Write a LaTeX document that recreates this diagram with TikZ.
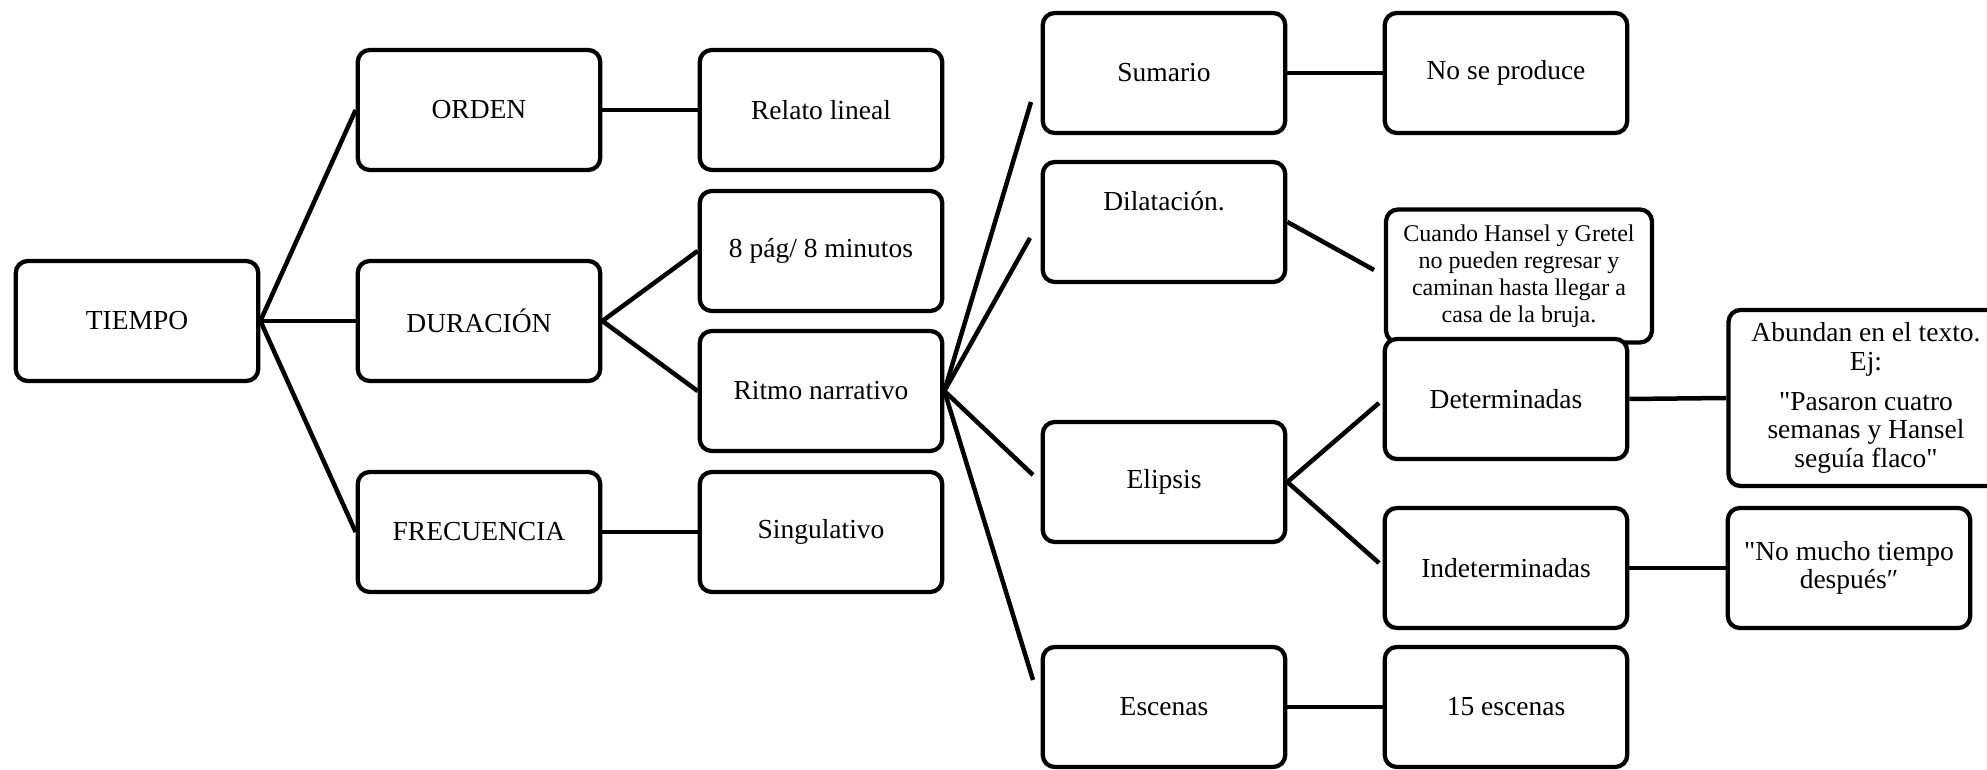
\documentclass[tikz,border=0pt]{standalone}
\usepackage{fontspec}
\setmainfont{Liberation Serif}[Ligatures=TeXOff]
\begin{document}
\begin{tikzpicture}[x=0.4pt,y=-0.4pt,
  box/.style={draw, line width=1.7pt, rounded corners=4.8pt, fill=white,
    minimum width=97pt, minimum height=48pt, inner sep=2pt, align=center,
    font=\fontsize{11}{11.4}\selectfont},
  link/.style={line width=1.8pt}]
\useasboundingbox (0,0) rectangle (1987,770);

% first level
\node[box] (tiempo) at (137,321) {TIEMPO};
\node[box] (orden) at (479,110) {ORDEN};
\node[box] (duracion) at (479,321) {DURACIÓN};
\node[box] (frecuencia) at (479,532) {FRECUENCIA};

% second level
\node[box] (relato) at (821,110) {Relato lineal};
\node[box] (pag) at (821,251) {8 pág/ 8 minutos};
\node[box] (ritmo) at (821,391) {Ritmo narrativo};
\node[box] (singulativo) at (821,532) {Singulativo};

% narrative rhythm
\node[box] (sumario) at (1164,73) {Sumario};
\node[box, text height=8pt, text depth=17pt] (dilatacion) at (1164,222) {Dilatación.};
\node[box] (elipsis) at (1164,482) {Elipsis};
\node[box] (escenas) at (1164,707) {Escenas};

% details
\node[box] (noproduce) at (1506,73) {No se produce};
\node[box, minimum width=106.4pt, minimum height=53.2pt,
  font=\fontsize{9.6}{10.8}\selectfont] (cuando) at (1519,276)
  {Cuando Hansel y Gretel\\ no pueden regresar y\\ caminan hasta llegar a\\ casa de la bruja.};
\node[box] (determinadas) at (1506,399) {Determinadas};
\node[box] (indeterminadas) at (1506,568) {Indeterminadas};
\node[box] (quince) at (1506,707) {15 escenas};

% this box runs past the right edge of the page
\begin{scope}
\clip (0,0) rectangle (1987,770);
\node[box, minimum width=110pt, minimum height=70.4pt] (abundan) at (1866,398)
  {Abundan en el texto.\\ Ej:\\[4.5pt] "Pasaron cuatro\\ semanas y Hansel\\ seguía flaco"};
\end{scope}
\node[box] (nomucho) at (1849,568) {"No mucho tiempo\\ después″};

% loose ends of connectors
\coordinate (csum) at (1031,102);
\coordinate (cdil) at (1030,238);
\coordinate (celi) at (1033,475);
\coordinate (cesc) at (1033,680);
\coordinate (ccua) at (1374,270);
\coordinate (cdet) at (1379,403);
\coordinate (cind) at (1379,563);

% connectors
\draw[link] (tiempo.east) -- (orden.west);
\draw[link] (tiempo.east) -- (duracion.west);
\draw[link] (tiempo.east) -- (frecuencia.west);
\draw[link] (orden.east) -- (relato.west);
\draw[link] (duracion.east) -- (pag.west);
\draw[link] (duracion.east) -- (ritmo.west);
\draw[link] (frecuencia.east) -- (singulativo.west);
\draw[link] (ritmo.east) -- (csum);
\draw[link] (ritmo.east) -- (cdil);
\draw[link] (ritmo.east) -- (celi);
\draw[link] (ritmo.east) -- (cesc);
\draw[link] (sumario.east) -- (noproduce.west);
\draw[link] (dilatacion.east) -- (ccua);
\draw[link] (elipsis.east) -- (cdet);
\draw[link] (elipsis.east) -- (cind);
\draw[link] (determinadas.east) -- (abundan.west);
\draw[link] (indeterminadas.east) -- (nomucho.west);
\draw[link] (escenas.east) -- (quince.west);
\end{tikzpicture}
\end{document}
